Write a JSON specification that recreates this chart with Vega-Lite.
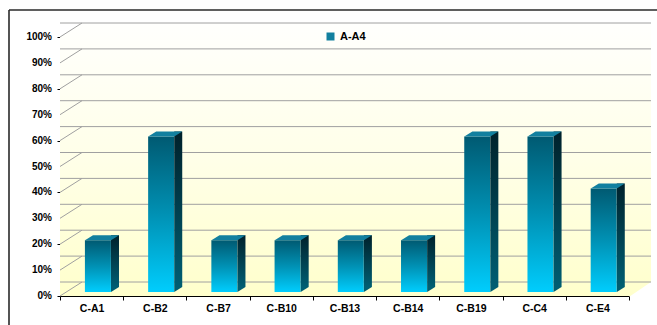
{
  "$schema": "https://vega.github.io/schema/vega-lite/v6.json",
  "width": 569,
  "height": 259,
  "autosize": {"type": "none"},
  "padding": {"left": 60, "top": 37, "right": 28, "bottom": 29},
  "background": "white",
  "config": {
    "view": {"stroke": null},
    "font": "Liberation Sans",
    "axis": {"labelFont": "Liberation Sans", "labelFontWeight": "bold", "labelFontSize": 10, "labelColor": "#000000", "domainColor": "#000000", "tickColor": "#000000", "grid": false, "title": null}
  },
  "datasets": {
    "bars": [
      {"cat": "C-A1", "pct": 0.2},
      {"cat": "C-B2", "pct": 0.6},
      {"cat": "C-B7", "pct": 0.2},
      {"cat": "C-B10", "pct": 0.2},
      {"cat": "C-B13", "pct": 0.2},
      {"cat": "C-B14", "pct": 0.2},
      {"cat": "C-B19", "pct": 0.6},
      {"cat": "C-C4", "pct": 0.6},
      {"cat": "C-E4", "pct": 0.4}
    ],
    "ticks": [
      {"v": 0}, {"v": 0.1}, {"v": 0.2}, {"v": 0.3}, {"v": 0.4}, {"v": 0.5},
      {"v": 0.6}, {"v": 0.7}, {"v": 0.8}, {"v": 0.9}, {"v": 1}
    ],
    "one": [{"k": 1}]
  },
  "layer": [
    {
      "data": {"name": "bars"},
      "mark": {"type": "bar", "opacity": 0, "width": 1},
      "encoding": {
        "x": {"field": "cat", "type": "nominal", "sort": null,
          "scale": {"domain": ["C-A1","C-B2","C-B7","C-B10","C-B13","C-B14","C-B19","C-C4","C-E4"], "paddingInner": 0, "paddingOuter": 0},
          "axis": {"tickBand": "extent", "tickSize": 4, "labelPadding": 3, "labelAngle": 0, "domainWidth": 1, "labelFontSize": 10.5}},
        "y": {"field": "pct", "type": "quantitative",
          "scale": {"domain": [0, 1], "nice": false, "zero": true},
          "axis": {"values": [0,0.1,0.2,0.3,0.4,0.5,0.6,0.7,0.8,0.9,1], "labels": false, "tickSize": 3, "domainWidth": 1}}
      }
    },
    {
      "data": {"name": "one"},
      "mark": {"type": "rect", "x2Offset": 22, "yOffset": -14,
        "fill": {"gradient": "linear", "x1": 0, "y1": 0, "x2": 0, "y2": 1,
          "stops": [{"offset": 0, "color": "#fffffd"}, {"offset": 0.5, "color": "#ffffe8"}, {"offset": 1, "color": "#ffffcc"}]}},
      "encoding": {
        "x": {"datum": "C-A1", "type": "nominal", "bandPosition": 0},
        "x2": {"datum": "C-E4", "bandPosition": 1},
        "y": {"datum": 1, "type": "quantitative"},
        "y2": {"datum": 0}
      }
    },
    {
      "data": {"name": "one"},
      "mark": {"type": "point", "filled": true, "opacity": 1, "fill": "white", "strokeWidth": 0, "size": 484,
        "shape": "M-1.05,-0.7L1.05,-0.7L-1.05,0.66Z", "xOffset": 11, "yOffset": -7},
      "encoding": {
        "x": {"datum": "C-A1", "type": "nominal", "bandPosition": 0},
        "y": {"datum": 1, "type": "quantitative"}
      }
    },
    {
      "data": {"name": "one"},
      "mark": {"type": "point", "filled": true, "opacity": 1, "fill": "white", "strokeWidth": 0, "size": 484,
        "shape": "M-0.98,0.7L1.1,0.7L1.1,-0.7Z", "xOffset": 11, "yOffset": -7},
      "encoding": {
        "x": {"datum": "C-E4", "type": "nominal", "bandPosition": 1},
        "y": {"datum": 0, "type": "quantitative"}
      }
    },
    {
      "data": {"name": "ticks"},
      "mark": {"type": "rule", "color": "#a0a0a0", "strokeWidth": 1, "xOffset": 22, "x2Offset": 22, "yOffset": -14},
      "encoding": {
        "y": {"field": "v", "type": "quantitative"}
      }
    },
    {
      "data": {"name": "ticks"},
      "mark": {"type": "rule", "color": "#a0a0a0", "strokeWidth": 1, "x2Offset": 22, "y2Offset": -14},
      "encoding": {
        "x": {"datum": "C-A1", "type": "nominal", "bandPosition": 0},
        "x2": {"datum": "C-A1", "bandPosition": 0},
        "y": {"field": "v", "type": "quantitative"},
        "y2": {"field": "v"}
      }
    },
    {
      "data": {"name": "ticks"},
      "mark": {"type": "text", "align": "right", "baseline": "middle", "xOffset": -8, "font": "Liberation Sans", "fontWeight": "bold", "fontSize": 10, "color": "#000000"},
      "encoding": {
        "x": {"datum": "C-A1", "type": "nominal", "bandPosition": 0},
        "y": {"field": "v", "type": "quantitative"},
        "text": {"field": "v", "type": "quantitative", "format": ".0%"}
      }
    },
    {
      "data": {"name": "bars"},
      "mark": {"type": "bar", "width": 26, "xOffset": 6.3, "yOffset": -4, "y2Offset": -4, "opacity": 1,
        "fill": {"gradient": "linear", "x1": 0, "y1": 0, "x2": 0, "y2": 1,
          "stops": [{"offset": 0, "color": "#005a72"}, {"offset": 0.5, "color": "#0091b4"}, {"offset": 1, "color": "#00cdfd"}]}},
      "encoding": {
        "x": {"field": "cat", "type": "nominal"},
        "y": {"field": "pct", "type": "quantitative"}
      }
    },
    {
      "data": {"name": "bars"},
      "mark": {"type": "bar", "width": 8, "xOffset": 23.4, "yOffset": -9, "y2Offset": -9, "opacity": 1,
        "fill": {"gradient": "linear", "x1": 0, "y1": 0, "x2": 0, "y2": 1,
          "stops": [{"offset": 0, "color": "#00212b"}, {"offset": 1, "color": "#005e72"}]}},
      "encoding": {
        "x": {"field": "cat", "type": "nominal"},
        "y": {"field": "pct", "type": "quantitative"}
      }
    },
    {
      "data": {"name": "bars"},
      "mark": {"type": "point", "filled": true, "opacity": 1, "fill": "#005e72", "strokeWidth": 0, "size": 64,
        "shape": "M-1,-0.65L1,-0.65L-1,0.625Z", "xOffset": 23.4, "yOffset": -6.5},
      "encoding": {
        "x": {"field": "cat", "type": "nominal"},
        "y": {"datum": 0, "type": "quantitative"}
      }
    },
    {
      "data": {"name": "bars"},
      "mark": {"type": "point", "filled": true, "opacity": 1, "strokeWidth": 0, "size": 1156,
        "shape": "M-1,0.147L0.529,0.147L1,-0.147L-0.529,-0.147Z", "xOffset": 10.4, "yOffset": -6.5},
      "encoding": {
        "x": {"field": "cat", "type": "nominal"},
        "y": {"field": "pct", "type": "quantitative"},
        "fill": {"datum": "A-A4", "type": "nominal", "scale": {"range": ["#12809f"]},
          "legend": {"title": null, "orient": "none", "legendX": 265, "legendY": -6, "symbolType": "square", "symbolSize": 64,
            "symbolStrokeWidth": 0, "symbolOpacity": 1, "labelFont": "Liberation Sans", "labelFontSize": 11, "labelFontWeight": "bold", "labelColor": "#000000", "padding": 0, "labelOffset": 4}}
      }
    },
    {
      "data": {"name": "one"},
      "mark": {"type": "rule", "color": "#2a2a2a", "strokeWidth": 1.6, "xOffset": -51, "x2Offset": 40, "yOffset": -27},
      "encoding": {
        "x": {"datum": "C-A1", "type": "nominal", "bandPosition": 0},
        "x2": {"datum": "C-E4", "bandPosition": 1},
        "y": {"datum": 1, "type": "quantitative"}
      }
    },
    {
      "data": {"name": "one"},
      "mark": {"type": "rule", "color": "#2a2a2a", "strokeWidth": 1.6, "xOffset": -51, "yOffset": -27, "y2Offset": 40},
      "encoding": {
        "x": {"datum": "C-A1", "type": "nominal", "bandPosition": 0},
        "y": {"datum": 1, "type": "quantitative"},
        "y2": {"datum": 0}
      }
    }
  ]
}
